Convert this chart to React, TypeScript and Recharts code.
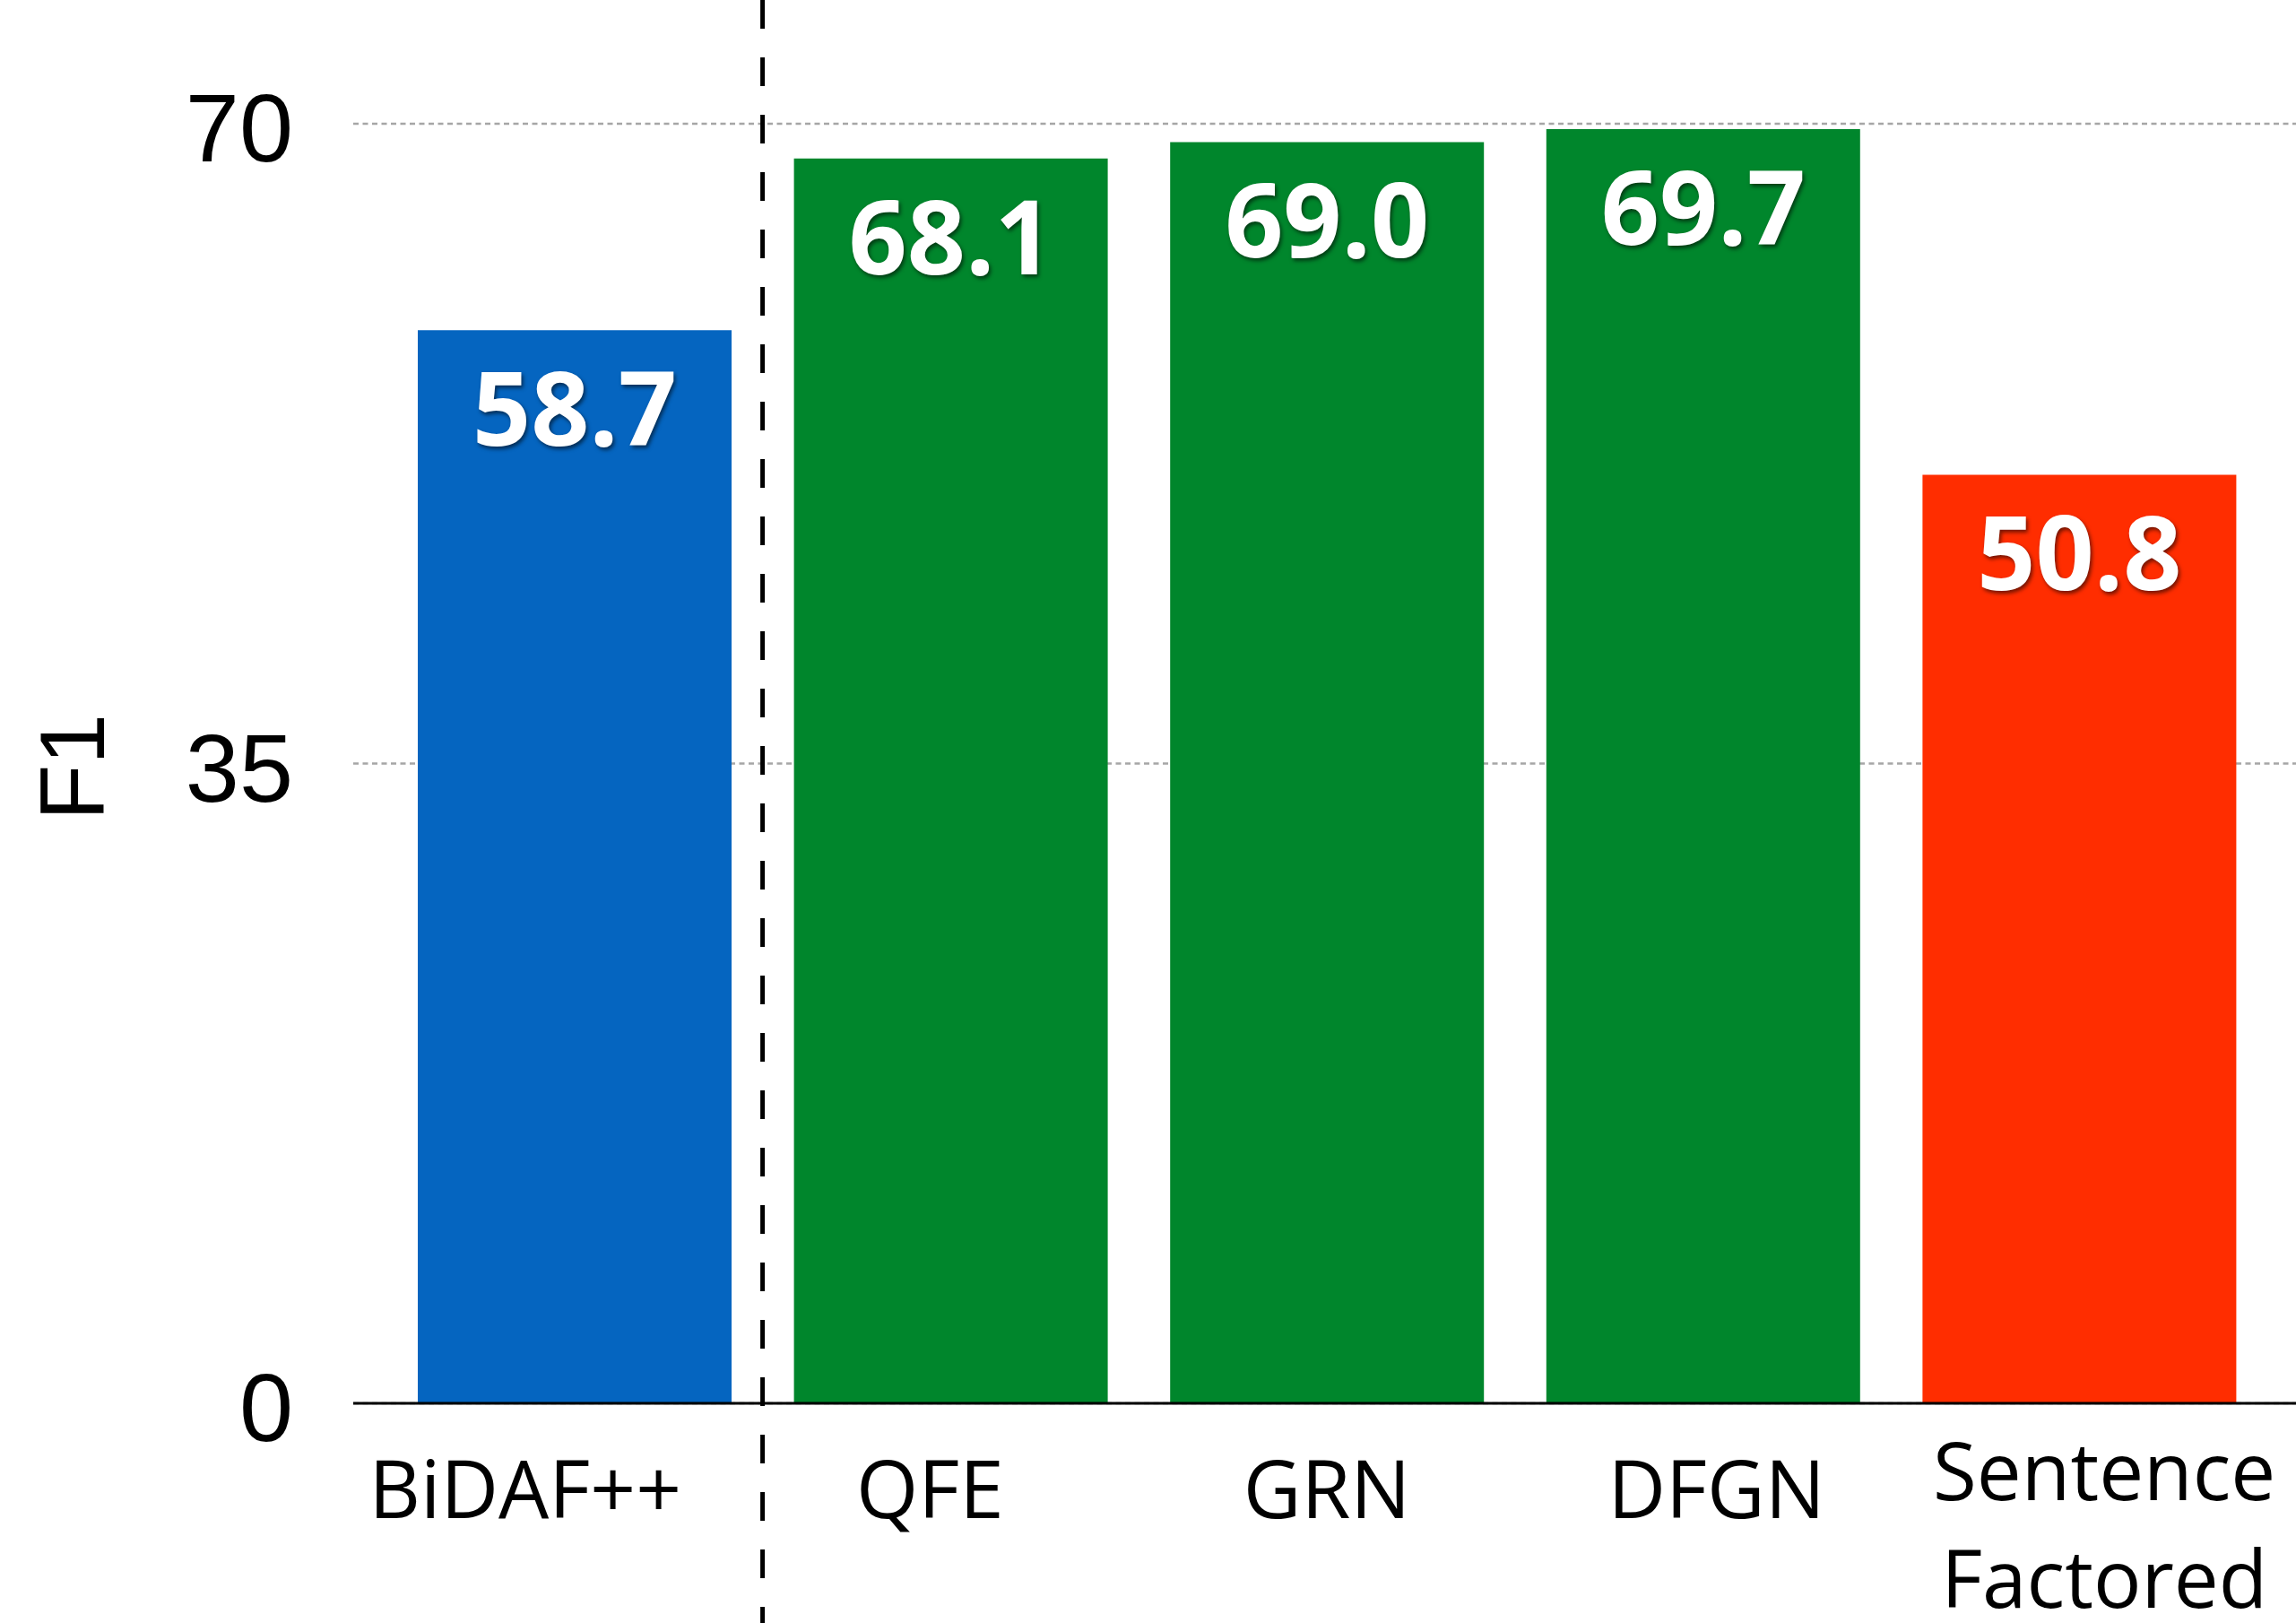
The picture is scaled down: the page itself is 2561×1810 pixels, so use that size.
import { Bar, BarChart, CartesianGrid, Cell, LabelList, ReferenceLine, XAxis, YAxis } from "recharts";

const models = ["BiDAF++", "QFE", "GRN", "DFGN", "Sentence Factored"];
const f1Scores = [58.7, 68.1, 69.0, 69.7, 50.8];
const modelGroups = ["baseline", "prior", "prior", "prior", "ours"];
const yTicks = [0, 35, 70];

const groupColor: Record<string, string> = {
  baseline: "#0565c0",
  prior: "#00862c",
  ours: "#ff2d00"
};

// the slide's category labels don't sit exactly under the bars
const tickNudge: Record<string, number> = {
  "BiDAF++": -55,
  QFE: -23,
  DFGN: 15,
  "Sentence Factored": 28
};

const data = models.map((name, i) => ({ name, f1: f1Scores[i], group: modelGroups[i] }));

function CategoryTick({ x, y, payload }: any) {
  const lines = String(payload.value).split(" ");
  const first = lines.length > 1 ? 108 : 128;
  const cx = x + (tickNudge[payload.value] ?? 0);
  return (
    <text textAnchor="middle" fontFamily="'Open Sans', sans-serif" fontSize={89} fill="#000">
      {lines.map((line, i) => (
        <tspan key={line} x={cx} y={y + first + i * 120}>
          {line}
        </tspan>
      ))}
    </text>
  );
}

function ValueLabel({ x, y, width, value }: any) {
  return (
    <text
      x={Number(x) + Number(width) / 2}
      y={Number(y) + 129}
      textAnchor="middle"
      fill="#fff"
      fontFamily="'Open Sans', sans-serif"
      fontWeight={700}
      fontSize={114}
      style={{ filter: "drop-shadow(2px 3px 2px rgba(0,0,0,0.55))" }}
    >
      {Number(value).toFixed(1)}
    </text>
  );
}

function AxisTitle({ viewBox }: any) {
  const cx = viewBox.x + 81;
  const cy = viewBox.y + viewBox.height / 2 + 4;
  return (
    <text
      x={cx}
      y={cy}
      transform={`rotate(-90 ${cx} ${cy})`}
      textAnchor="middle"
      dominantBaseline="central"
      fontFamily="'Liberation Sans', Arial, sans-serif"
      fontSize={102}
      fill="#000"
    >
      F1
    </text>
  );
}

// divider between the baseline and the other models, runs the full height of the picture
function Divider(props: any) {
  return <line x1={props.x1} x2={props.x2} y1={0} y2={1810} stroke="#000" strokeWidth={5} strokeDasharray="32 32" />;
}

export default function App() {
  return (
    <div style={{ position: "absolute", left: 0, top: 0, background: "#fff" }}>
      <BarChart width={2561} height={1810} data={data} margin={{ top: 138, right: 0, bottom: 0, left: 0 }}>
        <CartesianGrid vertical={false} stroke="#a6a6a6" strokeWidth={2.5} strokeDasharray="6 4.5" />
        <XAxis
          dataKey="name"
          height={245}
          padding={{ left: 37, right: 32 }}
          axisLine={{ stroke: "#000", strokeWidth: 3 }}
          tickLine={false}
          tickSize={0}
          tickMargin={0}
          interval={0}
          tick={<CategoryTick />}
        />
        <YAxis
          width={394}
          domain={[0, 70]}
          ticks={yTicks}
          axisLine={false}
          tickLine={false}
          tickSize={0}
          tickMargin={67}
          tick={{ fontSize: 108, fill: "#000", fontFamily: "'Liberation Sans', Arial, sans-serif", dy: 4 }}
          label={AxisTitle}
        />
        <Bar dataKey="f1" barSize={350} isAnimationActive={false}>
          {data.map((entry) => (
            <Cell key={entry.name} fill={groupColor[entry.group]} />
          ))}
          <LabelList dataKey="f1" content={<ValueLabel />} />
        </Bar>
        <ReferenceLine x="BiDAF++" position="end" shape={Divider} />
      </BarChart>
    </div>
  );
}
